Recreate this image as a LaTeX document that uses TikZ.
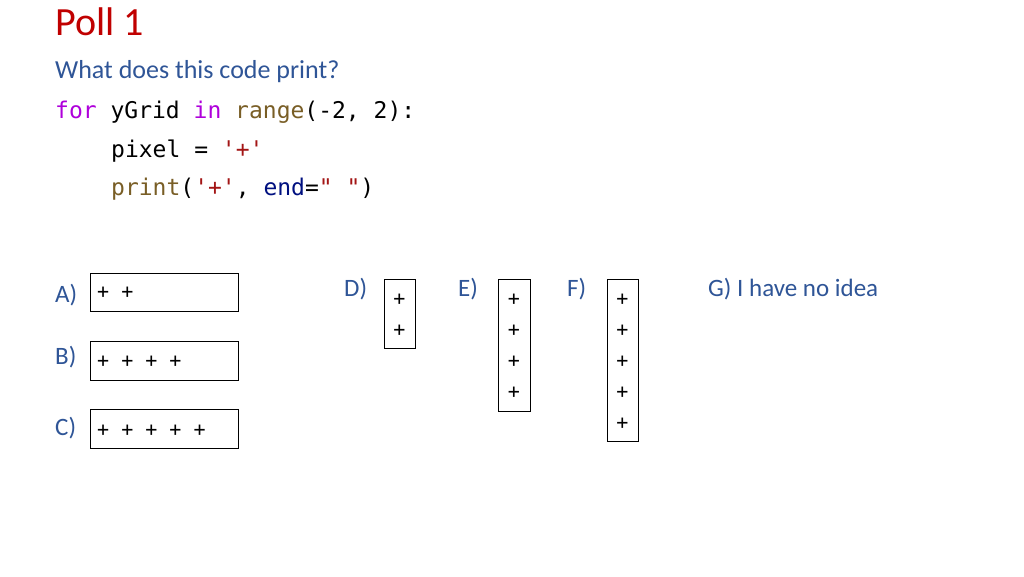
\documentclass[tikz,border=0pt]{standalone}
\usepackage{fontspec}
\setmainfont{Carlito}
\setmonofont{DejaVu Sans Mono}
\definecolor{titlered}{RGB}{192,0,0}
\definecolor{subblue}{RGB}{47,85,151}
\definecolor{kwpur}{RGB}{175,0,219}
\definecolor{fnbrown}{RGB}{121,94,38}
\definecolor{strred}{RGB}{163,21,21}
\definecolor{parblue}{RGB}{0,16,128}
\begin{document}
\begin{tikzpicture}[x=1pt,y=-1pt,
  lab/.style={anchor=west,inner sep=0pt,text=subblue,font=\fontsize{25}{30}\selectfont},
  code/.style={anchor=base west,inner sep=0pt,font=\ttfamily\fontsize{23}{28}\selectfont},
  ansbox/.style={draw,line width=0.8pt},
  pl/.style={inner sep=0pt,font=\ttfamily\fontsize{20}{24}\selectfont}]
\useasboundingbox[fill=white] (0,0) rectangle (1024,576);
\node[anchor=base west,inner sep=0pt,text=titlered,font=\fontsize{40}{46}\selectfont] (t) at (55,35) {Poll 1};
\node[anchor=base west,inner sep=0pt,text=subblue,font=\fontsize{26}{30}\selectfont] (s) at (55,78) {What does this code print?};
\node[code] (c1) at (55,118) {\textcolor{kwpur}{for} yGrid \textcolor{kwpur}{in} \textcolor{fnbrown}{range}(-2, 2):};
\node[code] (c2) at (111,157) {pixel = \textcolor{strred}{'+'}};
\node[code] (c3) at (111,195) {\textcolor{fnbrown}{print}(\textcolor{strred}{'+'}, \textcolor{parblue}{end}=\textcolor{strred}{" "})};
% labels
\node[lab] (la) at (55,295) {A)};
\node[lab] (lb) at (55,357) {B)};
\node[lab] (lc) at (55,428) {C)};
\node[lab] (ld) at (344,289) {D)};
\node[lab] (le) at (458,289) {E)};
\node[lab] (lf) at (567,289) {F)};
\node[lab] (lg) at (708,289) {G) I have no idea};
% boxes
\draw[ansbox] (90,273) rectangle (238,311);
\node[pl,anchor=west] (pa) at (97,293) {+ +};
\draw[ansbox] (90,341) rectangle (238,380);
\node[pl,anchor=west] (pb) at (97,362) {+ + + +};
\draw[ansbox] (90,409) rectangle (238,448);
\node[pl,anchor=west] (pc) at (97,431) {+ + + + +};
\draw[ansbox] (384,279) rectangle (415,348);
\foreach \y [count=\i] in {300,331} \node[pl] (d\i) at (399.5,\y) {+};
\draw[ansbox] (498,279) rectangle (530,411);
\foreach \y [count=\i] in {300,331,362,393} \node[pl] (e\i) at (514,\y) {+};
\draw[ansbox] (607,279) rectangle (638,441);
\foreach \y [count=\i] in {300,331,362,393,424} \node[pl] (f\i) at (622.5,\y) {+};
\end{tikzpicture}
\end{document}
